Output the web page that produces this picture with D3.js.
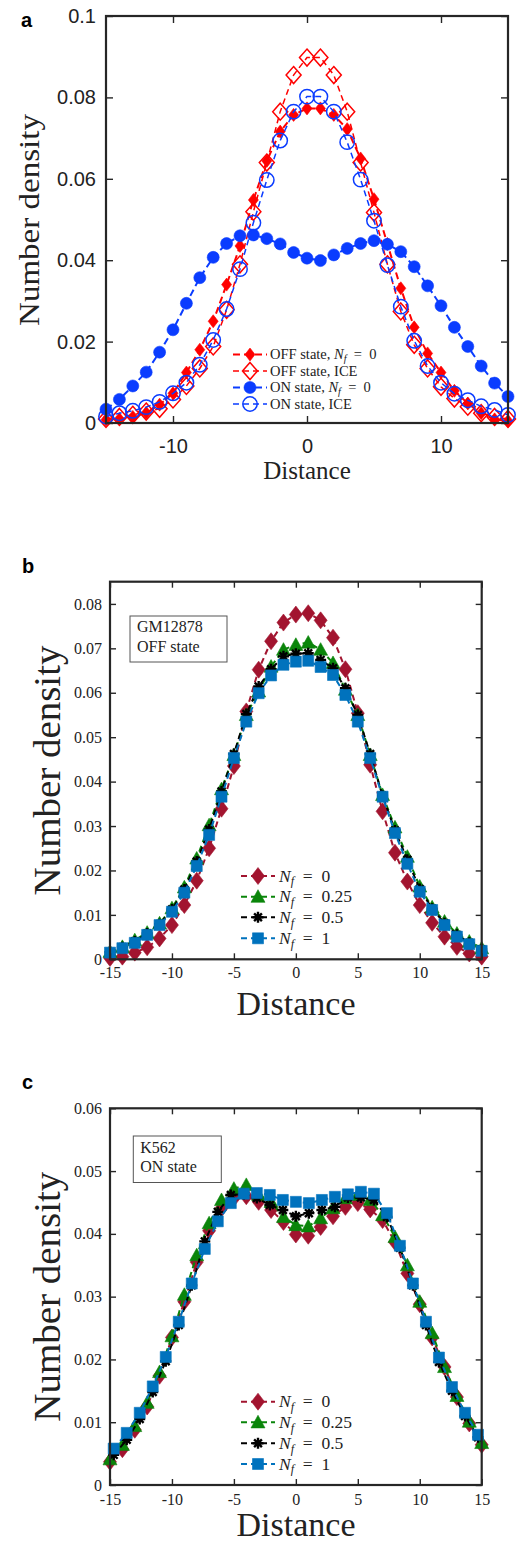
<!DOCTYPE html>
<html><head><meta charset="utf-8">
<script src="https://cdn.jsdelivr.net/npm/d3@7"></script>
<style>body{margin:0;background:#fff}</style>
</head><body><svg id="fig" width="532" height="1544"></svg>
<script>
// ---------- DATA ----------
const distance = [-15,-14,-13,-12,-11,-10,-9,-8,-7,-6,-5,-4,-3,-2,-1,0,1,2,3,4,5,6,7,8,9,10,11,12,13,14,15];
const distanceFine = [-14.7,-13.65,-12.6,-11.55,-10.5,-9.45,-8.4,-7.35,-6.3,-5.25,-4.2,-3.15,-2.1,-1.05,0,1.05,2.1,3.15,4.2,5.25,6.3,7.35,8.4,9.45,10.5,11.55,12.6,13.65,14.7];

// panel a
const aOffNf0 = [0.0008,0.001,0.0015,0.0025,0.0045,0.0073,0.0124,0.018,0.025,0.034,0.0435,0.0548,0.0644,0.0716,0.0757,0.0773,0.0773,0.0757,0.0722,0.065,0.055,0.044,0.0331,0.0235,0.0171,0.0124,0.0079,0.0048,0.0024,0.0009,0.0005];
const aOffIce = [0.001,0.0015,0.002,0.0028,0.0035,0.0058,0.0091,0.0134,0.0188,0.0278,0.039,0.0519,0.064,0.0765,0.0855,0.0898,0.0898,0.0855,0.0765,0.064,0.0517,0.039,0.0274,0.0192,0.0134,0.0089,0.006,0.004,0.0024,0.0015,0.001];
const aOnNf0 = [0.0034,0.0058,0.0091,0.0125,0.0174,0.0229,0.0294,0.0357,0.0407,0.0441,0.046,0.0462,0.0453,0.044,0.0419,0.0405,0.0399,0.0413,0.0429,0.0441,0.0448,0.0439,0.0421,0.0384,0.0337,0.0288,0.0235,0.0188,0.014,0.0098,0.0065];
const aOnIce = [0.0016,0.0024,0.003,0.0039,0.0052,0.0073,0.0099,0.0143,0.0204,0.028,0.0378,0.0492,0.0597,0.0694,0.0765,0.0802,0.0802,0.0765,0.069,0.0598,0.0497,0.0388,0.0286,0.0202,0.014,0.0099,0.0072,0.0056,0.0041,0.0032,0.002];
const aLegend = ["OFF state, ", "OFF state, ICE", "ON state, ", "ON state, ICE"];
const aXTicks = [-10,0,10];
const aXTickLabels = ["-10","0","10"];
const aYTicks = [0,0.02,0.04,0.06,0.08,0.1];
const aYTickLabels = ["0","0.02","0.04","0.06","0.08","0.1"];

// panel b (GM12878, OFF state)
const bNf0 = [0.0003,0.0006,0.0015,0.0027,0.0047,0.0077,0.0122,0.0177,0.025,0.0339,0.0435,0.0558,0.0652,0.0716,0.0758,0.0776,0.0779,0.0763,0.0724,0.0653,0.0554,0.0438,0.0333,0.024,0.0175,0.0122,0.0082,0.0051,0.0028,0.0013,0.0006];
const bNf025 = [0.0017,0.0028,0.0043,0.006,0.0081,0.0115,0.0162,0.0227,0.0302,0.0383,0.046,0.055,0.0603,0.0659,0.0697,0.0708,0.0713,0.0697,0.0667,0.0607,0.055,0.046,0.037,0.0297,0.0231,0.0164,0.0117,0.0085,0.0058,0.004,0.0025];
const bNf05 = [0.0016,0.0027,0.004,0.0058,0.0079,0.0112,0.0157,0.022,0.0292,0.0378,0.0462,0.0552,0.0614,0.0653,0.0682,0.0688,0.0689,0.0674,0.0655,0.061,0.055,0.0462,0.0368,0.029,0.0224,0.0158,0.0114,0.0081,0.0055,0.0037,0.0022];
const bNf1 = [0.0015,0.0025,0.0037,0.0055,0.0077,0.0107,0.015,0.021,0.028,0.0366,0.0453,0.0535,0.0599,0.0639,0.0663,0.067,0.0672,0.0658,0.064,0.0595,0.0535,0.0453,0.0366,0.0284,0.0215,0.0152,0.0111,0.0077,0.0051,0.0034,0.0019];
const bYTicks = [0,0.01,0.02,0.03,0.04,0.05,0.06,0.07,0.08];
const bYTickLabels = ["0","0.01","0.02","0.03","0.04","0.05","0.06","0.07","0.08"];

// panel c (K562, ON state)
const cNf0 = [0.0037,0.0057,0.0088,0.0125,0.0174,0.0235,0.0292,0.0355,0.0405,0.0441,0.0457,0.046,0.0451,0.0438,0.0419,0.0399,0.0397,0.0411,0.0428,0.0443,0.0449,0.0439,0.0422,0.0387,0.0337,0.0288,0.0235,0.0188,0.014,0.0098,0.0064];
const cNf025 = [0.0041,0.0064,0.0094,0.0131,0.018,0.0237,0.0303,0.0366,0.0417,0.0454,0.0472,0.0478,0.0462,0.0451,0.0427,0.0414,0.0412,0.0425,0.0441,0.0457,0.0462,0.0454,0.043,0.0395,0.035,0.0292,0.0242,0.0188,0.0142,0.0101,0.0067];
const cNf05 = [0.0048,0.0072,0.0105,0.0148,0.0197,0.0255,0.0318,0.0388,0.0435,0.0462,0.0463,0.0457,0.0446,0.0438,0.0428,0.0433,0.0438,0.0443,0.0458,0.0458,0.0454,0.0427,0.0378,0.0318,0.0255,0.0196,0.015,0.011,0.0076];
const cNf1 = [0.0058,0.0083,0.0115,0.0157,0.0204,0.026,0.0321,0.0376,0.042,0.0449,0.0464,0.0465,0.0462,0.0454,0.0451,0.0449,0.0454,0.0459,0.0463,0.0467,0.0464,0.0433,0.0381,0.0321,0.026,0.0203,0.0156,0.0115,0.008];
const cYTicks = [0,0.01,0.02,0.03,0.04,0.05,0.06];
const cYTickLabels = ["0","0.01","0.02","0.03","0.04","0.05","0.06"];

const bcXTicks = [-15,-10,-5,0,5,10,15];
const bcXTickLabels = ["-15","-10","-5","0","5","10","15"];
const nfLabels = ["0","0.25","0.5","1"];

// ---------- DRAWING ----------
const svg = d3.select("#fig");
const SERIF = "'Liberation Serif','Times New Roman',serif";
const SANS = "'Liberation Sans',Arial,Helvetica,sans-serif";
const AX = "#262626";

const shapes = {
  diamond: (w,h) => `M0,${-h}L${w},0L0,${h}L${-w},0Z`,
  triangle: s => `M0,${-s}L${s},${s*0.8}L${-s},${s*0.8}Z`,
  square: s => `M${-s},${-s}H${s}V${s}H${-s}Z`,
  circle: r => `M${r},0A${r},${r} 0 1,1 ${-r},0A${r},${r} 0 1,1 ${r},0Z`,
  asterisk: s => { let p=""; for (let k=0;k<4;k++){const a=k*Math.PI/4;const dx=s*Math.cos(a),dy=s*Math.sin(a);p+=`M${-dx},${-dy}L${dx},${dy}`;} return p; }
};

function drawMarker(g, x, y, m) {
  const p = g.append("path").attr("transform", `translate(${x},${y})`).attr("d", m.d);
  if (m.kind === "stroke" || m.kind === "open") {
    p.attr("fill","none").attr("stroke",m.color).attr("stroke-width",m.sw);
  } else {
    p.attr("fill",m.color).attr("stroke",m.color).attr("stroke-width",0.6);
  }
}

function drawAxes(g, x, y, o) {
  const [x0,x1] = x.range(), [y0,y1] = y.range();
  const styleAxis = sel => {
    sel.select(".domain").remove();
    sel.selectAll(".tick line").attr("stroke",AX).attr("stroke-width",1.4);
    sel.selectAll("text").attr("fill","#222").attr("font-family",o.tickFont).attr("font-size",o.tickSize);
    sel.attr("font-family",null).attr("font-size",null);
  };
  g.append("g").attr("transform",`translate(0,${y0})`)
    .call(d3.axisBottom(x).tickValues(o.xTicks).tickFormat((d,i)=>o.xLabels[i]).tickSize(-o.tickLen).tickPadding(o.xPad)).call(styleAxis);
  g.append("g").attr("transform",`translate(0,${y1})`)
    .call(d3.axisTop(x).tickValues(o.xTicks).tickFormat("").tickSize(-o.tickLen)).call(styleAxis);
  g.append("g").attr("transform",`translate(${x0},0)`)
    .call(d3.axisLeft(y).tickValues(o.yTicks).tickFormat((d,i)=>o.yLabels[i]).tickSize(-o.tickLen).tickPadding(o.yPad)).call(styleAxis);
  g.append("g").attr("transform",`translate(${x1},0)`)
    .call(d3.axisRight(y).tickValues(o.yTicks).tickFormat("").tickSize(-o.tickLen)).call(styleAxis);
  g.append("rect").attr("x",x0).attr("y",y1).attr("width",x1-x0).attr("height",y0-y1)
    .attr("fill","none").attr("stroke",AX).attr("stroke-width",o.boxW);
}

function drawSeries(g, x, y, xs, ys, st) {
  const pts = xs.map((d,i)=>[x(d), y(ys[i])]);
  g.append("path").attr("d", d3.line()(pts)).attr("fill","none")
    .attr("stroke",st.color).attr("stroke-width",st.lw).attr("stroke-dasharray",st.dash);
  pts.forEach(p => drawMarker(g, p[0], p[1], st.marker));
}

function legendRow(g, lx0, lx1, yy, st, textX, parts, fontSize) {
  g.append("line").attr("x1",lx0).attr("x2",lx1).attr("y1",yy).attr("y2",yy)
    .attr("stroke",st.color).attr("stroke-width",st.lw).attr("stroke-dasharray",st.dash);
  drawMarker(g,(lx0+lx1)/2,yy,st.marker);
  const t = g.append("text").attr("x",textX).attr("y",yy+fontSize*0.33)
    .attr("font-family",SERIF).attr("font-size",fontSize).attr("fill","#222");
  parts.forEach(p => {
    const ts = t.append("tspan").text(p.t);
    if (p.i) ts.attr("font-style","italic");
    if (p.dy) ts.attr("dy",p.dy);
    if (p.fs) ts.attr("font-size",p.fs);
  });
}

function nfParts(val, fs) {
  return [{t:"N",i:true},{t:"f",i:true,dy:fs*0.2,fs:fs*0.7},{t:"\u2002=\u2002"+val,dy:-fs*0.2}];
}

// ----- Panel a -----
{
  const g = svg.append("g");
  const x = d3.scaleLinear().domain([-15,15]).range([106,508]);
  const y = d3.scaleLinear().domain([0,0.1]).range([423,16]);
  const red = "#ff0000", blue = "#0a3cff";
  const sOffNf0 = {color:red,lw:2,dash:"7,4",marker:{kind:"fill",color:red,d:shapes.diamond(5,6.5)}};
  const sOffIce = {color:red,lw:1.5,dash:"6,4",marker:{kind:"open",color:red,sw:1.5,d:shapes.diamond(7.5,8.5)}};
  const sOnNf0 = {color:blue,lw:2,dash:"7,4",marker:{kind:"fill",color:blue,d:shapes.circle(6)}};
  const sOnIce = {color:blue,lw:1.5,dash:"6,4",marker:{kind:"open",color:blue,sw:1.5,d:shapes.circle(7.2)}};
  const sg = g.append("g");
  drawSeries(sg,x,y,distance,aOffNf0,sOffNf0);
  drawSeries(sg,x,y,distance,aOffIce,sOffIce);
  drawSeries(sg,x,y,distance,aOnNf0,sOnNf0);
  drawSeries(sg,x,y,distance,aOnIce,sOnIce);
  drawAxes(g,x,y,{xTicks:aXTicks,xLabels:aXTickLabels,yTicks:aYTicks,yLabels:aYTickLabels,
    tickFont:SANS,tickSize:20,tickLen:7,xPad:16,yPad:10,boxW:2.2});
  const lg = g.append("g");
  const fs = 14.5;
  legendRow(lg,233,267,354.5,sOffNf0,270,[{t:aLegend[0]}].concat(nfParts("0",fs)),fs);
  legendRow(lg,233,267,371,sOffIce,270,[{t:aLegend[1]}],fs);
  legendRow(lg,233,267,387.5,sOnNf0,270,[{t:aLegend[2]}].concat(nfParts("0",fs)),fs);
  legendRow(lg,233,267,404,sOnIce,270,[{t:aLegend[3]}],fs);
  g.append("text").attr("x",307).attr("y",479).attr("text-anchor","middle")
    .attr("font-family",SERIF).attr("font-size",25).attr("fill","#222").text("Distance");
  g.append("text").attr("transform","translate(39,220) rotate(-90)").attr("text-anchor","middle")
    .attr("font-family",SERIF).attr("font-size",29).attr("fill","#222")
    .attr("textLength",212).attr("lengthAdjust","spacingAndGlyphs").text("Number density");
  g.append("text").attr("x",21).attr("y",27).attr("font-family",SANS).attr("font-weight","bold")
    .attr("font-size",20).attr("fill","#000").text("a");
}

// ----- Panels b and c -----
const cRed = "#a2142f", cGreen = "#0a850a", cBlack = "#000000", cBlue = "#0072bd";
function styles() {
  return [
    {color:cRed,lw:2,dash:"6,4",marker:{kind:"fill",color:cRed,d:shapes.diamond(6.5,8.5)}},
    {color:cGreen,lw:2,dash:"6,4",marker:{kind:"fill",color:cGreen,d:shapes.triangle(7)}},
    {color:cBlack,lw:2,dash:"6,4",marker:{kind:"stroke",color:cBlack,sw:2.4,d:shapes.asterisk(5.5)}},
    {color:cBlue,lw:2,dash:"6,4",marker:{kind:"fill",color:cBlue,d:shapes.square(5.5)}}
  ];
}

function panelBC(o) {
  const g = svg.append("g");
  const x = d3.scaleLinear().domain([-15,15]).range([110,481.7]);
  const y = d3.scaleLinear().domain([0,o.ymax]).range([o.y0,o.y1]);
  const st = styles();
  o.series.forEach((s,i) => drawSeries(g,x,y,s.xs,s.ys,st[i]));
  drawAxes(g,x,y,{xTicks:bcXTicks,xLabels:bcXTickLabels,yTicks:o.yTicks,yLabels:o.yLabels,
    tickFont:SERIF,tickSize:16,tickLen:6,xPad:o.xPad,yPad:8,boxW:2.2});
  g.append("rect").attr("x",o.box[0]).attr("y",o.box[1]).attr("width",o.box[2]).attr("height",o.box[3])
    .attr("fill","#fff").attr("stroke","#555").attr("stroke-width",1);
  o.boxText.forEach((t,i)=>{
    g.append("text").attr("x",o.box[0]+7).attr("y",o.boxBase[i]).attr("font-family",SERIF)
      .attr("font-size",16).attr("fill","#222").text(t);
  });
  const fs = 17.5;
  o.legendY.forEach((yy,i)=> legendRow(g,241,275,yy,st[i],279,nfParts(nfLabels[i],fs),fs));
  g.append("text").attr("x",296).attr("y",o.xlabY).attr("text-anchor","middle")
    .attr("font-family",SERIF).attr("font-size",34).attr("fill","#222").text("Distance");
  g.append("text").attr("transform",`translate(60,${(o.y0+o.y1)/2}) rotate(-90)`).attr("text-anchor","middle")
    .attr("font-family",SERIF).attr("font-size",37).attr("fill","#222")
    .attr("textLength",250).attr("lengthAdjust","spacingAndGlyphs").text("Number density");
  g.append("text").attr("x",22).attr("y",o.letterY).attr("font-family",SANS).attr("font-weight","bold")
    .attr("font-size",20).attr("fill","#000").text(o.letter);
}

panelBC({ymax:0.085,y0:959.3,y1:581.7,yTicks:bYTicks,yLabels:bYTickLabels,xPad:7,
  series:[{xs:distance,ys:bNf0},{xs:distance,ys:bNf025},{xs:distance,ys:bNf05},{xs:distance,ys:bNf1}],
  box:[130,616,97,46],boxText:["GM12878","OFF state"],boxBase:[631.5,651.5],
  legendY:[876,896.7,917.3,938.3],xlabY:1015,letter:"b",letterY:573});

panelBC({ymax:0.06,y0:1485,y1:1108.3,yTicks:cYTicks,yLabels:cYTickLabels,xPad:9,
  series:[{xs:distance,ys:cNf0},{xs:distance,ys:cNf025},{xs:distanceFine,ys:cNf05},{xs:distanceFine,ys:cNf1}],
  box:[133.3,1136,88,46.5],boxText:["K562","ON state"],boxBase:[1152.5,1172.3],
  legendY:[1401.7,1422.3,1443.3,1464],xlabY:1536,letter:"c",letterY:1089});
</script></body></html>
